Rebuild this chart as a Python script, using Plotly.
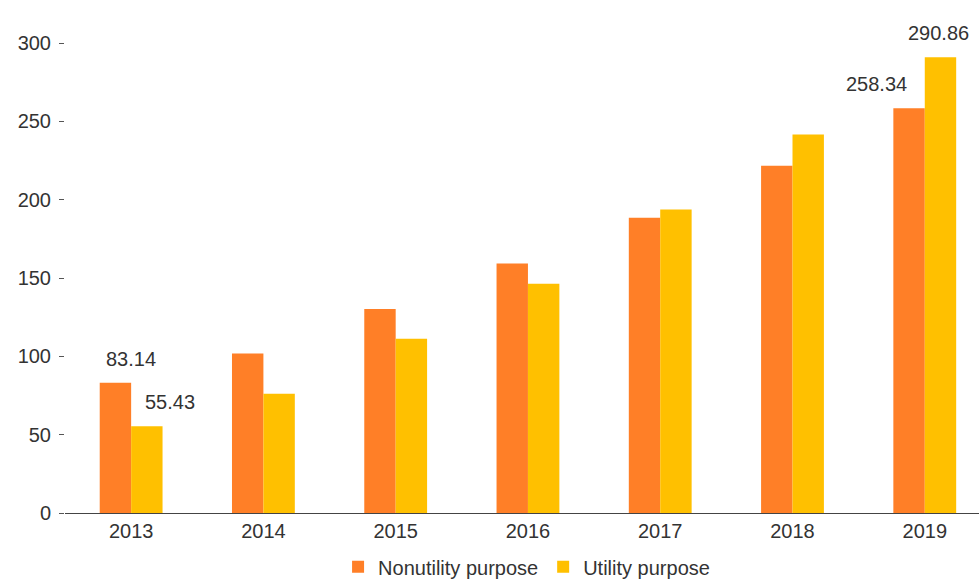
import plotly.graph_objects as go

years = ["2013", "2014", "2015", "2016", "2017", "2018", "2019"]
nonutility = [83.14, 101.8, 130.2, 159.2, 188.5, 221.6, 258.34]
utility = [55.43, 76.2, 111.2, 146.4, 193.7, 241.6, 290.86]
y_ticks = [0, 50, 100, 150, 200, 250, 300]

ORANGE = "#FF7F27"
YELLOW = "#FFC000"
TXT = "#333333"
FONT = "Liberation Sans"

fig = go.Figure()
fig.add_trace(go.Bar(x=years, y=nonutility, name="Nonutility purpose",
                     marker=dict(color=ORANGE, line=dict(width=0))))
fig.add_trace(go.Bar(x=years, y=utility, name="Utility purpose",
                     marker=dict(color=YELLOW, line=dict(width=0))))

# data labels for first and last year (category index, value, horizontal shift)
labels = [
    (0, nonutility[0], 0),
    (0, utility[0], 39),
    (len(years) - 1, nonutility[-1], -48),
    (len(years) - 1, utility[-1], 14),
]
annotations = []
for xi, v, dx in labels:
    annotations.append(dict(x=xi, y=v, text="%.2f" % v, showarrow=False,
                            xref="x", yref="y", xshift=dx, yshift=24,
                            yanchor="middle", xanchor="center",
                            font=dict(size=20, color=TXT, family=FONT)))

fig.update_layout(
    width=979, height=579,
    margin=dict(l=65, r=0, t=20, b=66, autoexpand=False),
    paper_bgcolor="white", plot_bgcolor="white",
    barmode="group", bargap=0.525, bargroupgap=0,
    font=dict(family=FONT, size=20, color=TXT),
    showlegend=True,
    annotations=annotations,
    legend=dict(orientation="h", x=0.505, xanchor="center",
                yref="container", y=0.021, yanchor="middle",
                font=dict(size=20, color=TXT), itemwidth=30, traceorder="normal"),
)
fig.update_xaxes(type="category", range=[-0.5, 6.41], showgrid=False,
                 showline=True, linecolor="#444444", linewidth=1,
                 ticks="", tickfont=dict(size=20, color=TXT), automargin=False)
fig.update_yaxes(range=[0, 314.7], tickvals=y_ticks, showgrid=False,
                 showline=False, zeroline=False, ticks="outside", ticklen=5,
                 tickcolor="#555555", tickwidth=1, ticklabelstandoff=4,
                 tickfont=dict(size=20, color=TXT), automargin=False)

fig.write_html("out.html", config={"displayModeBar": False},
               post_script="document.body.style.margin='0px';")
